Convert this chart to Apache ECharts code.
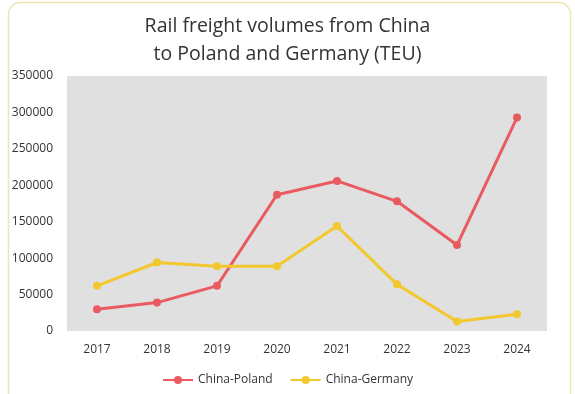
<!DOCTYPE html>
<html>
<head>
<meta charset="utf-8">
<script src="https://cdn.jsdelivr.net/npm/echarts@6/dist/echarts.min.js"></script>
<style>
html,body{margin:0;padding:0;background:#fff;}
#chart{width:575px;height:394px;}
</style>
</head>
<body>
<div id="chart"></div>
<script>
const years = ['2017','2018','2019','2020','2021','2022','2023','2024'];
const chinaPoland = [30000, 39000, 62000, 187000, 206000, 178000, 118000, 293000];
const chinaGermany = [62000, 94000, 89000, 89000, 144000, 64000, 13000, 23000];
const seriesNames = ['China-Poland', 'China-Germany'];

const chart = echarts.init(document.getElementById('chart'));
const font = 'Open Sans';
chart.setOption({
  animation: false,
  textStyle: { fontFamily: font },
  graphic: [{
    type: 'rect',
    silent: true,
    shape: { x: 8.5, y: 2.5, width: 562, height: 430, r: 12 },
    style: { fill: 'none', stroke: '#EEE5B2', lineWidth: 1.5 }
  }],
  title: {
    text: 'Rail freight volumes from China\nto Poland and Germany (TEU)',
    left: 'center',
    top: 7,
    textStyle: { fontFamily: font, fontSize: 19.5, fontWeight: 'normal', color: '#333', lineHeight: 28 }
  },
  legend: {
    data: seriesNames,
    bottom: 3,
    left: 'center',
    itemWidth: 30,
    itemHeight: 10,
    itemGap: 17,
    textStyle: { fontFamily: font, fontSize: 12, color: '#333' }
  },
  grid: {
    left: 67, right: 28, top: 76, bottom: 63,
    show: true, backgroundColor: '#E0E0E0', borderWidth: 0
  },
  xAxis: {
    type: 'category',
    data: years,
    axisLine: { show: false },
    axisTick: { show: false },
    axisLabel: { color: '#333', fontSize: 12, margin: 13, fontFamily: font }
  },
  yAxis: {
    type: 'value',
    min: 0, max: 350000, interval: 50000,
    splitLine: { show: false },
    axisLine: { show: false },
    axisTick: { show: false },
    axisLabel: { color: '#333', fontSize: 12, margin: 14, fontFamily: font, formatter: v => String(v) }
  },
  series: [
    {
      name: seriesNames[0], type: 'line', data: chinaPoland,
      symbol: 'circle', symbolSize: 8,
      lineStyle: { width: 3, color: '#E95B60' },
      itemStyle: { color: '#E95B60' }
    },
    {
      name: seriesNames[1], type: 'line', data: chinaGermany,
      symbol: 'circle', symbolSize: 8,
      lineStyle: { width: 3, color: '#F3C72E' },
      itemStyle: { color: '#F3C72E' }
    }
  ]
});
</script>
</body>
</html>
